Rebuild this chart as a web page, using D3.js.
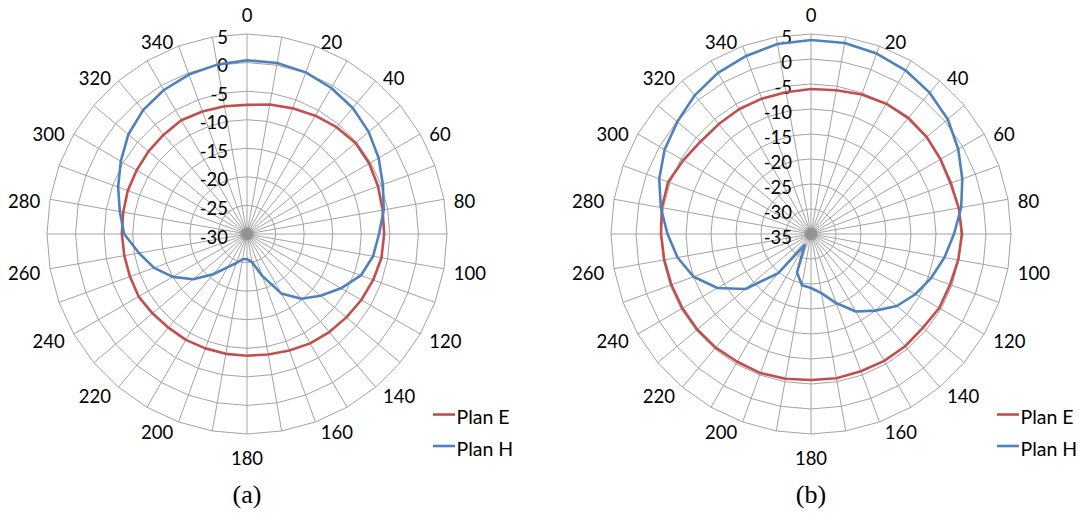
<!DOCTYPE html>
<html><head><meta charset="utf-8">
<script src="https://cdn.jsdelivr.net/npm/d3@7"></script>
<style>
body{margin:0;background:#fff}
svg{display:block}
text{font-family:Lato,"Liberation Sans",sans-serif;fill:#000}
</style>
</head><body>
<svg id="chart" width="1078" height="518"></svg>
<script>
// ---- data ----
const angles = [0,10,20,30,40,50,60,70,80,90,100,110,120,130,140,150,160,170,
                180,190,200,210,220,230,240,250,260,270,280,290,300,310,320,330,340,350];
const angleTicks = [0,20,40,60,80,100,120,140,160,180,200,220,240,260,280,300,320,340];
const radialTicksA = [5,0,-5,-10,-15,-20,-25,-30];
const radialTicksB = [5,0,-5,-10,-15,-20,-25,-30,-35];
const seriesNames = ["Plan E","Plan H"];
const captions = ["(a)","(b)"];

const planE_a = [-7.4,-7.0,-6.6,-6.1,-5.6,-5.2,-5.3,-5.6,-5.9,-6.0,-6.1,-6.5,-6.9,-7.3,-7.6,-7.9,-8.3,-8.6,
                 -8.7,-8.7,-8.7,-8.6,-8.6,-8.4,-8.1,-8.2,-8.2,-8.1,-8.0,-7.8,-7.7,-7.5,-7.3,-7.0,-7.2,-7.3];
const planH_a = [0.4,0.4,0.1,-0.5,-1.2,-2.2,-3.4,-4.7,-5.7,-6.9,-7.6,-8.8,-11.0,-13.2,-15.2,-18.0,-22.2,-25.0,
                 -25.6,-25.5,-24.6,-23.3,-20.8,-17.7,-15.0,-12.7,-10.8,-8.5,-7.4,-6.0,-4.5,-2.9,-1.7,-0.9,-0.3,0.1];
const planE_b = [-6.0,-5.8,-5.3,-4.9,-4.7,-4.8,-5.1,-5.3,-5.0,-4.8,-5.1,-5.4,-5.4,-5.8,-5.7,-5.7,-5.8,-5.7,
                 -5.8,-5.6,-5.4,-5.5,-5.35,-5.3,-5.3,-5.3,-5.2,-5.0,-4.7,-4.6,-5.5,-6.2,-6.3,-6.2,-6.2,-6.2];
const planH_b = [3.8,3.8,3.4,2.8,1.9,0.7,-1.0,-2.8,-4.5,-6.4,-7.9,-9.4,-10.9,-12.6,-15.0,-17.1,-20.3,-23.0,
                 -24.2,-24.6,-26.8,-32.5,-24.8,-17.9,-13.4,-10.0,-7.9,-6.3,-4.5,-2.7,-1.2,-0.1,1.2,2.2,2.9,3.6];

const colors = ["#C0504D","#4F81BD"];
const gridColor = "#a3a3a3";

const svg = d3.select("#chart");
svg.append("rect").attr("width",1078).attr("height",518).attr("fill","#fff");

function drawPolar(cx, cy, R, radialTicks, seriesList, caption) {
  const g = svg.append("g").attr("transform", `translate(${cx},${cy})`);
  const vmin = d3.min(radialTicks), vmax = d3.max(radialTicks);
  const r = d3.scaleLinear().domain([vmin, vmax]).range([0, R]);
  const a = d3.scaleLinear().domain([0, 360]).range([0, 2 * Math.PI]);

  const poly = d3.lineRadial()
    .angle(d => a(d.a)).radius(d => r(d.v))
    .curve(d3.curveLinearClosed);

  // rings (polygons)
  g.selectAll("path.ring")
    .data(radialTicks.filter(t => t > vmin))
    .join("path").attr("class","ring")
    .attr("d", t => poly(angles.map(an => ({a: an, v: t}))))
    .attr("fill","none").attr("stroke", gridColor).attr("stroke-width", 1);

  // spokes
  g.selectAll("line.spoke")
    .data(angles)
    .join("line").attr("class","spoke")
    .attr("x1",0).attr("y1",0)
    .attr("x2", d => r(vmax) * Math.sin(a(d)))
    .attr("y2", d => -r(vmax) * Math.cos(a(d)))
    .attr("stroke", gridColor).attr("stroke-width", 1);

  // converging spokes form a dense grey hub
  g.append("circle").attr("r", 6.5).attr("fill", "#8f8f8f").attr("opacity", 0.85);

  // radial value labels
  g.selectAll("text.rv")
    .data(radialTicks)
    .join("text").attr("class","rv")
    .attr("x", -19)
    .attr("y", d => -r(d) + 2.5)
    .attr("text-anchor","end")
    .attr("dominant-baseline","central")
    .attr("font-size", 18.5)
    .text(d => d);

  // angle labels
  g.selectAll("text.al")
    .data(angleTicks)
    .join("text").attr("class","al")
    .each(function(d) {
      const th = a(d), s = Math.sin(th), c = Math.cos(th);
      const ex = r(vmax) * s, ey = -r(vmax) * c;
      const t = d3.select(this);
      if (Math.abs(s) < 0.01) {
        t.attr("x", ex).attr("text-anchor","middle")
         .attr("y", ey - 21.5 * c + 2.5);
      } else {
        const off = 3 + 7 * Math.abs(s);
        t.attr("x", s > 0 ? ex + off : ex - off)
         .attr("text-anchor", s > 0 ? "start" : "end")
         .attr("y", ey - 7 * c + 3);
      }
    })
    .attr("dominant-baseline","central")
    .attr("font-size", 18.5)
    .text(d => d);

  // series lines
  seriesList.forEach((vals, i) => {
    g.append("path")
      .attr("d", poly(angles.map((an, k) => ({a: an, v: vals[k]}))))
      .attr("fill","none")
      .attr("stroke", colors[i])
      .attr("stroke-width", 2.6)
      .attr("stroke-linejoin","round");
  });

  // legend
  const lg = g.append("g");
  seriesNames.forEach((name, i) => {
    const y = 180.5 + i * 31.5;
    lg.append("line").attr("x1", 186).attr("x2", 208).attr("y1", y).attr("y2", y)
      .attr("stroke", colors[i]).attr("stroke-width", 2.6);
    lg.append("text").attr("x", 209.5).attr("y", y + 2)
      .attr("dominant-baseline","central").attr("font-size", 19.5).text(name);
  });

  // caption
  g.append("text").attr("x", 0).attr("y", 260)
    .attr("text-anchor","middle").attr("dominant-baseline","central")
    .attr("font-size", 26)
    .style("font-family", "'Liberation Serif','DejaVu Serif',serif")
    .text(caption);
}

drawPolar(247, 234, 200, radialTicksA, [planE_a, planH_a], captions[0]);
drawPolar(811, 234, 200, radialTicksB, [planE_b, planH_b], captions[1]);
</script>
</body></html>
